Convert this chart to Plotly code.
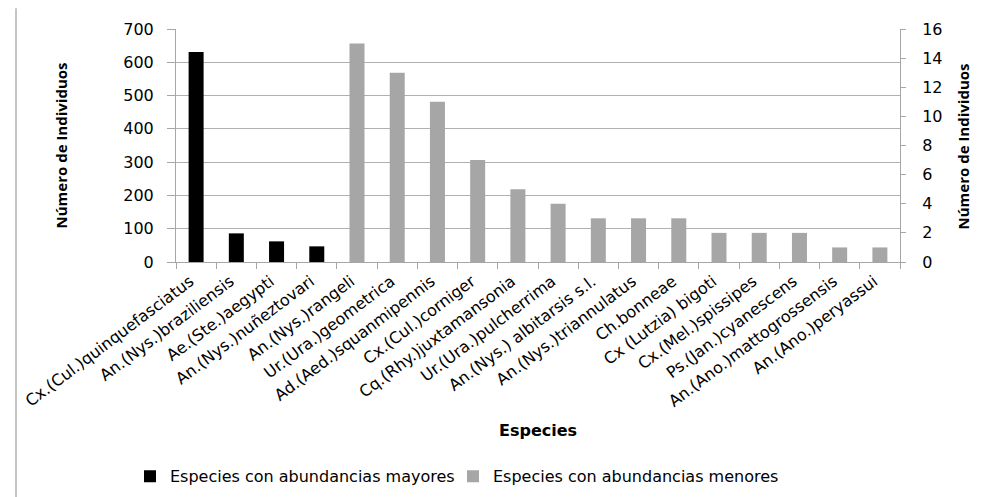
import plotly.graph_objects as go

categories = [
    "Cx.(Cul.)quinquefasciatus", "An.(Nys.)braziliensis", "Ae.(Ste.)aegypti",
    "An.(Nys.)nuñeztovari", "An.(Nys.)rangeli", "Ur.(Ura.)geometrica",
    "Ad.(Aed.)squanmipennis", "Cx.(Cul.)corniger", "Cq.(Rhy.)juxtamansonia",
    "Ur.(Ura.)pulcherrima", "An.(Nys.) albitarsis s.l.", "An.(Nys.)triannulatus",
    "Ch.bonneae", "Cx (Lutzia) bigoti", "Cx.(Mel.)spissipes",
    "Ps.(Jan.)cyanescens", "An.(Ano.)mattogrossensis", "An.(Ano.)peryassui",
]
mayores = [631, 86, 62, 47] + [None] * 14
menores = [None] * 4 + [15, 13, 11, 7, 5, 4, 3, 3, 3, 2, 2, 2, 1, 1]

left_ticks = [0, 100, 200, 300, 400, 500, 600, 700]
right_ticks = [0, 2, 4, 6, 8, 10, 12, 14, 16]

W, H = 984, 497
L, R, T, B = 168, 92, 21, 240
PW, PH = W - L - R, H - T - B

def px(x):
    return (x - L) / PW

def py(y):
    return (H - B - y) / PH

FONT = "DejaVu Sans"
AX = "#a6a6a6"

fig = go.Figure()
fig.add_trace(go.Bar(x=categories, y=mayores, name="Especies con abundancias mayores",
                     marker=dict(color="#000000", line=dict(width=0)), yaxis="y",
                     legend="legend"))
fig.add_trace(go.Bar(x=categories, y=menores, name="Especies con abundancias menores",
                     marker=dict(color="#a6a6a6", line=dict(width=0)), yaxis="y2",
                     legend="legend2"))

fig.update_layout(
    width=W, height=H,
    margin=dict(l=L, r=R, t=T, b=B),
    paper_bgcolor="white", plot_bgcolor="white",
    barmode="overlay", bargap=0.627,
    font=dict(family=FONT, size=15, color="#000000"),
    xaxis=dict(
        type="category", tickangle=-37, ticks="outside", tickson="boundaries",
        ticklen=6, tickcolor=AX, showline=True, linecolor=AX, linewidth=1,
        showgrid=False, tickfont=dict(family=FONT, size=16),
        ticklabelshift=-6, ticklabelstandoff=3,
    ),
    yaxis=dict(
        range=[0, 700], tickvals=left_ticks, ticks="outside", ticklen=8,
        tickcolor=AX, showline=True, linecolor=AX, showgrid=True,
        gridcolor="#b0b0b0", gridwidth=1, zeroline=False,
        tickfont=dict(family=FONT, size=16), ticklabelstandoff=10,
    ),
    yaxis2=dict(
        range=[0, 16], tickvals=right_ticks, overlaying="y", side="right",
        ticks="outside", ticklen=5, tickcolor=AX, showline=True, linecolor=AX,
        showgrid=False, zeroline=False, tickfont=dict(family=FONT, size=16),
        ticklabelstandoff=13,
    ),
    legend=dict(orientation="h", x=px(122), xanchor="left", y=py(474),
                yanchor="middle", font=dict(family=FONT, size=16),
                bgcolor="rgba(0,0,0,0)"),
    legend2=dict(orientation="h", x=px(445), xanchor="left", y=py(474),
                 yanchor="middle", font=dict(family=FONT, size=16),
                 bgcolor="rgba(0,0,0,0)"),
    showlegend=True,
    annotations=[
        dict(text="<b>Especies</b>", x=px(530), y=py(428), xref="paper", yref="paper",
             showarrow=False, font=dict(family=FONT, size=16), xanchor="center",
             yanchor="middle"),
        dict(text="<b>Número de Individuos</b>", x=px(52), y=py(139), xref="paper",
             yref="paper", showarrow=False, textangle=-90,
             font=dict(family="Open Sans", size=15), xanchor="center", yanchor="middle"),
        dict(text="<b>Número de Individuos</b>", x=px(955), y=py(140), xref="paper",
             yref="paper", showarrow=False, textangle=-90,
             font=dict(family="Open Sans", size=15), xanchor="center", yanchor="middle"),
    ],
    shapes=[
        dict(type="line", xref="paper", yref="paper", x0=px(8), x1=px(8),
             y0=py(497), y1=py(0), line=dict(color="#8c8c8c", width=1)),
    ],
)

fig.write_html("out.html")
